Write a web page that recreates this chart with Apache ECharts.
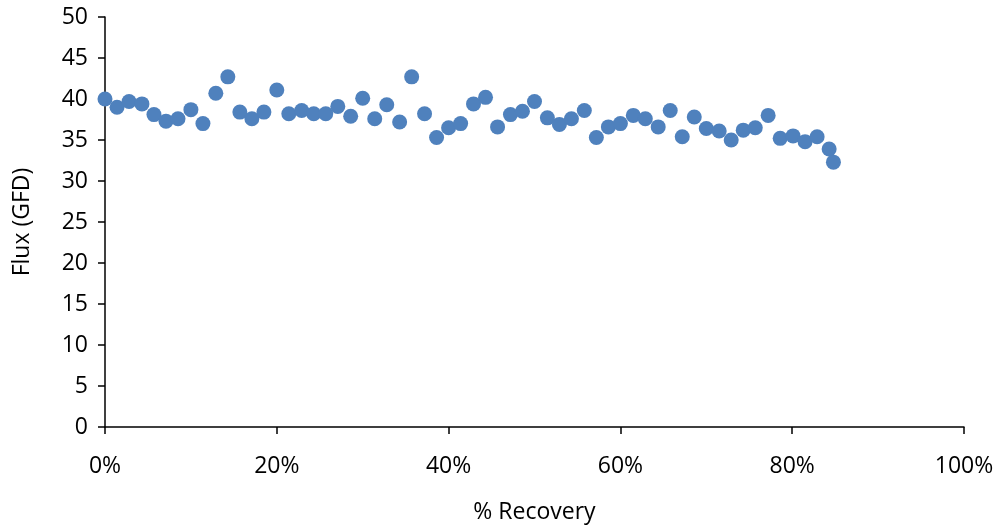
<!DOCTYPE html>
<html>
<head>
<meta charset="utf-8">
<title>Flux vs Recovery</title>
<script src="https://cdn.jsdelivr.net/npm/echarts@6/dist/echarts.min.js"></script>
<style>
  html, body { margin: 0; padding: 0; background: #ffffff; }
  #chart { width: 1002px; height: 529px; }
</style>
</head>
<body>
<div id="chart"></div>
<script>
// Recovery (%) at each sample
const recovery = [
  0, 1.4, 2.8, 4.3, 5.7, 7.1, 8.5, 10.0, 11.4, 12.9,
  14.3, 15.7, 17.1, 18.5, 20.0, 21.4, 22.9, 24.3, 25.7, 27.1,
  28.6, 30.0, 31.4, 32.8, 34.3, 35.7, 37.2, 38.6, 40.0, 41.4,
  42.9, 44.3, 45.7, 47.2, 48.6, 50.0, 51.5, 52.9, 54.3, 55.8,
  57.2, 58.6, 60.0, 61.5, 62.9, 64.4, 65.8, 67.2, 68.6, 70.0,
  71.5, 72.9, 74.3, 75.7, 77.2, 78.6, 80.1, 81.5, 82.9, 84.3,
  84.8
];

// Measured flux (GFD)
const flux = [
  40.0, 39.0, 39.7, 39.4, 38.1, 37.3, 37.6, 38.7, 37.0, 40.7,
  42.7, 38.4, 37.6, 38.4, 41.1, 38.2, 38.6, 38.2, 38.2, 39.1,
  37.9, 40.1, 37.6, 39.3, 37.2, 42.7, 38.2, 35.3, 36.5, 37.0,
  39.4, 40.2, 36.6, 38.1, 38.5, 39.7, 37.7, 36.9, 37.6, 38.6,
  35.3, 36.6, 37.0, 38.0, 37.6, 36.6, 38.6, 35.4, 37.8, 36.4,
  36.1, 35.0, 36.2, 36.5, 38.0, 35.2, 35.5, 34.8, 35.4, 33.9,
  32.3
];

const xTitle = '% Recovery';
const yTitle = 'Flux (GFD)';

const points = recovery.map((r, i) => [r, flux[i]]);

const FONT = 'Open Sans';
const FONT_SIZE = 23;
const axisLine = { show: true, lineStyle: { color: '#000000', width: 1.5 } };
const axisTick = { show: true, inside: false, length: 7, lineStyle: { color: '#000000', width: 1.5 } };

const chart = echarts.init(document.getElementById('chart'), null, { renderer: 'canvas' });
chart.setOption({
  animation: false,
  backgroundColor: '#ffffff',
  grid: { left: 105, right: 38, top: 17, bottom: 99, containLabel: false },
  xAxis: {
    type: 'value',
    min: 0, max: 100, interval: 20,
    name: xTitle,
    nameLocation: 'middle',
    nameGap: 74,
    nameTextStyle: { fontFamily: FONT, fontSize: FONT_SIZE, color: '#000000' },
    axisLine: axisLine,
    axisTick: axisTick,
    splitLine: { show: false },
    axisLabel: {
      formatter: '{value}%',
      margin: 28,
      fontFamily: FONT, fontSize: FONT_SIZE, color: '#000000'
    }
  },
  yAxis: {
    type: 'value',
    min: 0, max: 50, interval: 5,
    name: yTitle,
    nameLocation: 'middle',
    nameGap: 71,
    nameTextStyle: { fontFamily: FONT, fontSize: FONT_SIZE, color: '#000000' },
    axisLine: axisLine,
    axisTick: axisTick,
    splitLine: { show: false },
    axisLabel: {
      margin: 17,
      fontFamily: FONT, fontSize: FONT_SIZE, color: '#000000'
    }
  },
  series: [{
    type: 'scatter',
    data: points,
    symbol: 'circle',
    symbolSize: 15,
    itemStyle: { color: '#4F81BD', opacity: 1 },
    clip: false
  }]
});
</script>
</body>
</html>
